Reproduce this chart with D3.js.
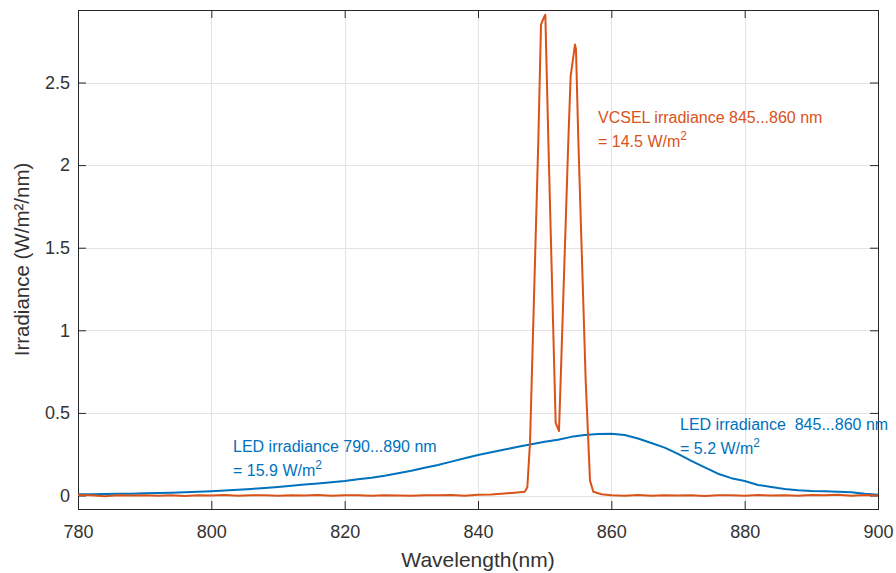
<!DOCTYPE html>
<html>
<head>
<meta charset="utf-8">
<script src="https://cdn.jsdelivr.net/npm/d3@7/dist/d3.min.js"></script>
<style>
  html, body { margin: 0; padding: 0; background: #fff; }
  svg { display: block; font-family: "Liberation Sans", Arial, Helvetica, sans-serif; }
  .note text { white-space: pre; }
</style>
</head>
<body>
<svg id="chart" width="896" height="573"></svg>
<script>
// LED spectrum (W/m²/nm), sampled every 2 nm
const ledWavelength = [780,782,784,786,788,790,792,794,796,798,800,802,804,806,808,810,812,814,816,818,
  820,822,824,826,828,830,832,834,836,838,840,842,844,846,848,850,852,854,856,858,
  860,862,864,866,868,870,872,874,876,878,880,882,884,886,888,890,892,894,896,898,900];
const ledIrradiance = [0.008,0.008,0.009,0.010,0.011,0.013,0.015,0.017,0.019,0.022,0.026,0.030,0.035,0.040,0.046,0.052,0.059,0.066,0.073,0.080,
  0.088,0.098,0.108,0.120,0.135,0.150,0.168,0.185,0.205,0.225,0.245,0.262,0.278,0.295,0.310,0.326,0.338,0.355,0.366,0.372,
  0.374,0.366,0.345,0.318,0.290,0.252,0.210,0.170,0.132,0.105,0.088,0.064,0.052,0.040,0.032,0.027,0.025,0.023,0.020,0.010,0.004];

// VCSEL spectrum (W/m²/nm)
const vcselWavelength = [780,782,784,786,788,790,792,794,796,798,800,802,804,806,808,810,812,814,816,818,
  820,822,824,826,828,830,832,834,836,838,840,842,844,845.5,847.0,847.4,847.8,849.05,849.45,849.95,850.1,
  850.55,851.65,852.15,852.4,853.55,853.9,854.55,854.7,855.05,856.15,856.8,857.3,858.5,
  860,862,864,866,868,870,872,874,876,878,880,882,884,886,888,890,892,894,896,898,900];
const vcselIrradiance = [0.003,0.001,-0.004,0.002,0.000,0.002,-0.002,0.001,-0.003,0.002,0.000,0.003,-0.001,0.002,0.001,-0.002,0.002,0.000,0.003,-0.002,
  0.001,0.002,-0.001,0.002,0.000,-0.002,0.002,0.001,0.003,-0.001,0.004,0.006,0.012,0.017,0.023,0.05,0.32,2.15,2.85,2.90,2.91,
  2.15,0.44,0.39,0.70,2.15,2.54,2.73,2.70,2.15,0.70,0.09,0.023,0.008,
  0.002,-0.002,0.003,-0.001,0.002,0.000,0.002,-0.003,0.002,0.001,-0.002,0.003,0.000,0.002,-0.001,0.003,0.001,0.004,-0.002,0.003,0.000];

const xTicks = [780, 800, 820, 840, 860, 880, 900];
const yTicks = [0, 0.5, 1, 1.5, 2, 2.5];

const ledColor = "#0072BD";
const vcselColor = "#D95319";

const svg = d3.select("#chart");
const plotLeft = 78, plotRight = 878, plotTop = 10, plotBottom = 509;

const x = d3.scaleLinear().domain([780, 900]).range([plotLeft, plotRight]);
const y = d3.scaleLinear().domain([-0.0817, 2.939]).range([plotBottom, plotTop]);

// grid
const grid = svg.append("g").attr("stroke", "#e3e3e3").attr("stroke-width", 1);
grid.selectAll(".gx").data(xTicks.slice(1, -1)).join("line")
  .attr("x1", d => Math.round(x(d)) + 0.5).attr("x2", d => Math.round(x(d)) + 0.5)
  .attr("y1", plotTop).attr("y2", plotBottom);
grid.selectAll(".gy").data(yTicks).join("line")
  .attr("y1", d => Math.round(y(d)) + 0.5).attr("y2", d => Math.round(y(d)) + 0.5)
  .attr("x1", plotLeft).attr("x2", plotRight);

// axes (ticks pointing inward, box on all sides)
const axisColor = "#262626";
const tickLen = 8;
const bottomAxis = svg.append("g").attr("transform", `translate(0,${plotBottom})`)
  .call(d3.axisBottom(x).tickValues(xTicks).tickSizeInner(-tickLen).tickSizeOuter(0).tickPadding(16).tickFormat(d3.format("d")));
const topAxis = svg.append("g").attr("transform", `translate(0,${plotTop})`)
  .call(d3.axisTop(x).tickValues(xTicks).tickSizeInner(-tickLen).tickSizeOuter(0).tickFormat(""));
const leftAxis = svg.append("g").attr("transform", `translate(${plotLeft},0)`)
  .call(d3.axisLeft(y).tickValues(yTicks).tickSizeInner(-tickLen).tickSizeOuter(0).tickPadding(8).tickFormat(d3.format("")));
const rightAxis = svg.append("g").attr("transform", `translate(${plotRight},0)`)
  .call(d3.axisRight(y).tickValues(yTicks).tickSizeInner(-tickLen).tickSizeOuter(0).tickFormat(""));

[bottomAxis, topAxis, leftAxis, rightAxis].forEach(g => {
  g.select(".domain").remove();
  g.selectAll(".tick line").attr("stroke", axisColor).attr("stroke-width", 1);
  g.selectAll(".tick text").attr("fill", "#333").attr("font-size", 18)
    .attr("font-family", "Liberation Sans, Arial, sans-serif");
});

svg.append("rect")
  .attr("x", plotLeft + 0.5).attr("y", plotTop + 0.5)
  .attr("width", plotRight - plotLeft).attr("height", plotBottom - plotTop)
  .attr("fill", "none").attr("stroke", axisColor).attr("stroke-width", 1);

// spectra
const line = d3.line().x(d => x(d[0])).y(d => y(d[1]));
svg.append("path")
  .datum(ledWavelength.map((w, i) => [w, ledIrradiance[i]]))
  .attr("d", line).attr("fill", "none").attr("stroke", ledColor)
  .attr("stroke-width", 2).attr("stroke-linejoin", "round");
svg.append("path")
  .datum(vcselWavelength.map((w, i) => [w, vcselIrradiance[i]]))
  .attr("d", line).attr("fill", "none").attr("stroke", vcselColor)
  .attr("stroke-width", 2).attr("stroke-linejoin", "round");

// axis titles
svg.append("text")
  .attr("x", (plotLeft + plotRight) / 2).attr("y", 567)
  .attr("text-anchor", "middle").attr("fill", "#333").attr("font-size", 21)
  .text("Wavelength(nm)");
svg.append("text")
  .attr("transform", `translate(29,${(plotTop + plotBottom) / 2}) rotate(-90)`)
  .attr("text-anchor", "middle").attr("fill", "#333").attr("font-size", 20.5)
  .text("Irradiance (W/m²/nm)");

// annotations
function note(px, py, first, valueText, color) {
  const g = svg.append("g").attr("class", "note").attr("fill", color).attr("font-size", 16);
  g.append("text").attr("x", px).attr("y", py).text(first);
  const t = g.append("text").attr("x", px).attr("y", py + 24);
  t.append("tspan").text(valueText);
  t.append("tspan").attr("dy", -7).attr("font-size", 12).text("2");
}
note(598, 123, "VCSEL irradiance 845...860 nm", "= 14.5 W/m", vcselColor);
note(233, 452, "LED irradiance 790...890 nm", "= 15.9 W/m", ledColor);
note(680, 430, "LED irradiance  845...860 nm", "= 5.2 W/m", ledColor);
</script>
</body>
</html>
